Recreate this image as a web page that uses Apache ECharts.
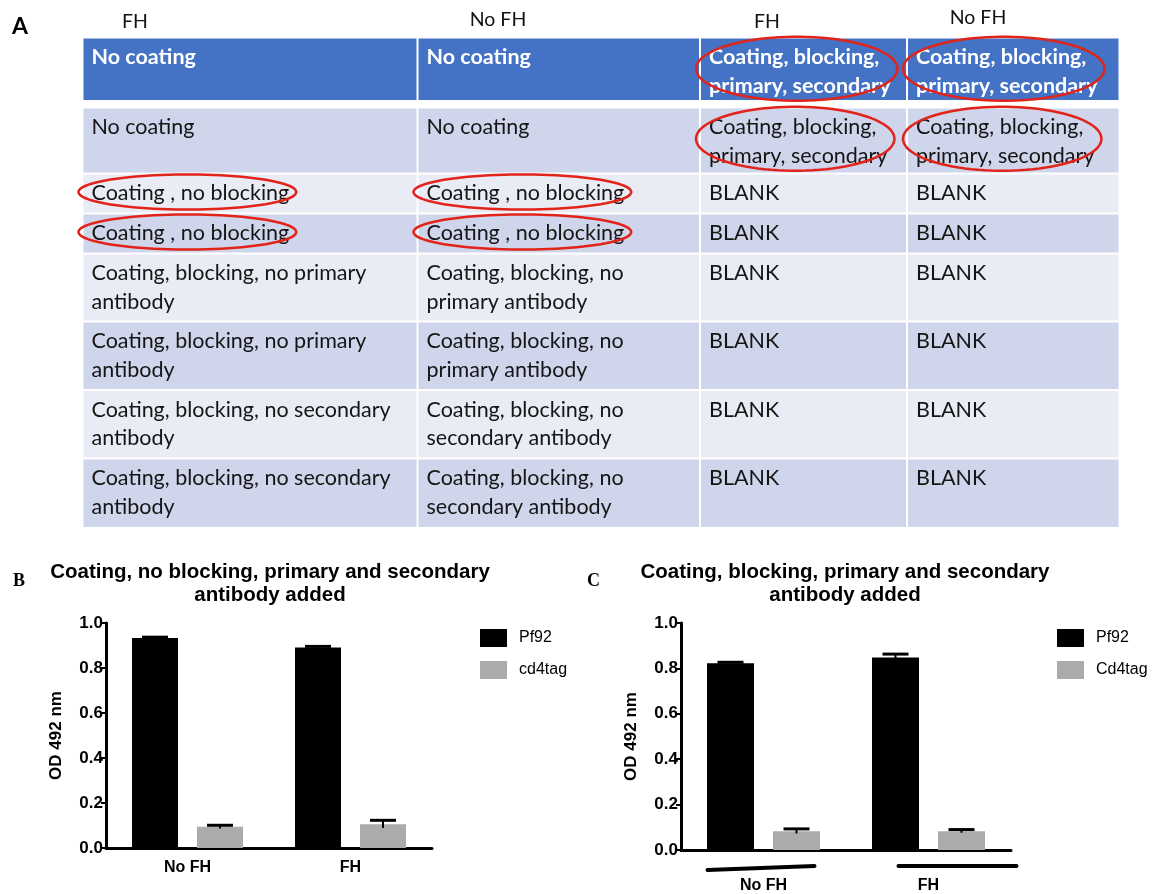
<!DOCTYPE html>
<html><head><meta charset="utf-8">
<script src="https://cdn.jsdelivr.net/npm/echarts@6/dist/echarts.min.js"></script>
<style>html,body{margin:0;padding:0;background:#fff}#c{width:1167px;height:894px}</style>
</head><body><div id="c"></div>
<script>
// ---------------- DATA ----------------
// Panel A: plate-layout table
const columnHeads = ['FH', 'No FH', 'FH', 'No FH'];
const tableRows = [
  ['No coating', 'No coating', 'Coating, blocking,\nprimary, secondary', 'Coating, blocking,\nprimary, secondary'],
  ['No coating', 'No coating', 'Coating, blocking,\nprimary, secondary', 'Coating, blocking,\nprimary, secondary'],
  ['Coating , no blocking', 'Coating , no blocking', 'BLANK', 'BLANK'],
  ['Coating , no blocking', 'Coating , no blocking', 'BLANK', 'BLANK'],
  ['Coating, blocking, no primary\nantibody', 'Coating, blocking, no\nprimary antibody', 'BLANK', 'BLANK'],
  ['Coating, blocking, no primary\nantibody', 'Coating, blocking, no\nprimary antibody', 'BLANK', 'BLANK'],
  ['Coating, blocking, no secondary\nantibody', 'Coating, blocking, no\nsecondary antibody', 'BLANK', 'BLANK'],
  ['Coating, blocking, no secondary\nantibody', 'Coating, blocking, no\nsecondary antibody', 'BLANK', 'BLANK']
];
// [row, col] cells circled in red (row 0 = header row)
const circledCells = [[0, 2], [0, 3], [1, 2], [1, 3], [2, 0], [2, 1], [3, 0], [3, 1]];

// Panel B
const titleB = 'Coating, no blocking, primary and secondary\nantibody added';
const categoriesB = ['No FH', 'FH'];
const pf92B = [0.933, 0.891];
const pf92BErr = [0.004, 0.005];
const cd4tagB = [0.094, 0.106];
const cd4tagBErr = [0.007, 0.017];
const legendB = ['Pf92', 'cd4tag'];

// Panel C
const titleC = 'Coating, blocking, primary and secondary\nantibody added';
const categoriesC = ['No FH', 'FH'];
const pf92C = [0.823, 0.848];
const pf92CErr = [0.004, 0.015];
const cd4tagC = [0.083, 0.083];
const cd4tagCErr = [0.010, 0.007];
const legendC = ['Pf92', 'Cd4tag'];

const yAxisTitle = 'OD 492 nm';

// ---------------- LAYOUT / STYLE ----------------
const TABLE = {
  left: 82.5, top: 37.5, width: 1037, height: 490.5,
  colEdges: [0, 335, 617.5, 824.5, 1037],
  rowBounds: [[0, 63.5], [70, 136], [136, 176], [176, 216], [216, 284], [284, 352.5], [352.5, 421], [421, 490.5]],
  headPos: [[52.5, -15.5], [415.5, -17.5], [684.5, -15.5], [895.5, -20]],
  padX: 9, padY: 5.75, lineH: 28.5, font: 21.5, headFont: 19.5
};
const TFONT = 'Lato';
const SANS = '"Liberation Sans", Arial, sans-serif';
const mctx = document.createElement('canvas').getContext('2d');
function textW(str, font) { mctx.font = font; return Math.max.apply(null, str.split('\n').map(s => mctx.measureText(s).width)); }

const tableItems = [];
tableRows.forEach((row, r) => row.forEach((txt, c) => tableItems.push({ r, c, txt })));
columnHeads.forEach((txt, c) => tableItems.push({ head: true, c, txt }));

function renderTable(params, api) {
  const it = tableItems[params.dataIndex];
  if (it.head) {
    const p = api.coord([TABLE.headPos[it.c][0], 0]);
    return { type: 'text', x: p[0], y: p[1] + TABLE.headPos[it.c][1],
      style: { text: it.txt, fill: '#111', font: `${TABLE.headFont}px ${TFONT}`, align: 'center', verticalAlign: 'middle' } };
  }
  const [r0, r1] = TABLE.rowBounds[it.r];
  const a = api.coord([TABLE.colEdges[it.c], r0]);
  const b = api.coord([TABLE.colEdges[it.c + 1], r1]);
  const header = it.r === 0;
  const fill = header ? '#4472C4' : (it.r % 2 === 1 ? '#CFD5EA' : '#E9EBF5');
  return { type: 'group', children: [
    { type: 'rect', shape: { x: a[0] + 1, y: a[1] + 1, width: b[0] - a[0] - 2, height: b[1] - a[1] - 2 }, style: { fill } },
    { type: 'text', x: a[0] + TABLE.padX, y: a[1] + TABLE.padY,
      style: { text: it.txt, fill: header ? '#fff' : '#151515', font: `${header ? 'bold ' : ''}${TABLE.font}px ${TFONT}`,
        verticalAlign: 'top', lineHeight: TABLE.lineH } }
  ] };
}

function renderEllipse(params, api) {
  const [r, c] = circledCells[params.dataIndex];
  const txt = tableRows[r][c];
  const n = txt.split('\n').length;
  const [r0] = TABLE.rowBounds[r];
  const a = api.coord([TABLE.colEdges[c], r0]);
  const b = api.coord([TABLE.colEdges[c + 1], r0]);
  const font = `${r === 0 ? 'bold ' : ''}${TABLE.font}px ${TFONT}`;
  const w = Math.min(textW(txt, font), b[0] - a[0] - 14);
  const left = a[0] + TABLE.padX;
  const cx = left + w / 2 - 3, rx = w / 2 + 10;
  const blockC = a[1] + 20 + (n - 1) * TABLE.lineH / 2;
  const cy = blockC - (n > 1 ? 3 : 1.5), ry = n > 1 ? 32 : 17.5;
  const pts = [];
  for (let i = 0; i < 90; i++) { const t = i / 90 * Math.PI * 2; pts.push([cx + rx * Math.cos(t), cy + ry * Math.sin(t)]); }
  return { type: 'polygon', shape: { points: pts }, style: { fill: 'none', stroke: '#E2231A', lineWidth: 2.5 } };
}

// bar geometry (px)
const BAR = { B: { w: 46, gap: 19 }, C: { w: 47, gap: 19 } };
function errData(a, ae, b, be) {
  const d = [];
  a.forEach((v, i) => d.push([i, v, ae[i], -1]));
  b.forEach((v, i) => d.push([i, v, be[i], 1]));
  return d;
}
function errRenderer(geo) {
  return function (params, api) {
    const cat = api.value(0), v = api.value(1), e = api.value(2), side = api.value(3);
    const top = api.coord([cat, v + e]);
    const bot = api.coord([cat, v - e]);
    const x = top[0] + side * (geo.w + geo.gap) / 2;
    return { type: 'group', children: [
      { type: 'line', shape: { x1: x, y1: top[1], x2: x, y2: bot[1] }, style: { stroke: '#000', lineWidth: 2 } },
      { type: 'line', shape: { x1: x - 13, y1: top[1], x2: x + 13, y2: top[1] }, style: { stroke: '#000', lineWidth: 3 } }
    ] };
  };
}
// hand-drawn grouping strokes under panel C categories: [dx1, dy1, dx2, dy2] relative to tick / axis
const C_STROKES = [[-56, 20, 51, 16], [-30, 16, 88, 16]];
function renderStrokes(params, api) {
  const i = params.dataIndex;
  const p = api.coord([i, 0]);
  const s = C_STROKES[i];
  return { type: 'line', shape: { x1: p[0] + s[0], y1: p[1] + s[1], x2: p[0] + s[2], y2: p[1] + s[3] },
    style: { stroke: '#000', lineWidth: 4, lineCap: 'round' } };
}

function xAxisFor(gi, cats, margin) {
  return { gridIndex: gi, type: 'category', data: cats,
    axisLine: { lineStyle: { color: '#000', width: 3 } },
    axisTick: { alignWithLabel: true, length: 10, lineStyle: { color: '#000', width: 3 } },
    axisLabel: { color: '#000', fontFamily: SANS, fontWeight: 'bold', fontSize: 16, margin },
    splitLine: { show: false } };
}
function yAxisFor(gi) {
  return { gridIndex: gi, type: 'value', min: 0, max: 1, interval: 0.2,
    name: yAxisTitle, nameLocation: 'middle', nameGap: 41,
    nameTextStyle: { color: '#000', fontFamily: SANS, fontWeight: 'bold', fontSize: 17 },
    axisLine: { show: true, lineStyle: { color: '#000', width: 3 } },
    axisTick: { show: true, length: 5, lineStyle: { color: '#000', width: 2 } },
    axisLabel: { color: '#000', fontFamily: SANS, fontWeight: 'bold', fontSize: 17, margin: 3, formatter: v => v.toFixed(1) },
    splitLine: { show: false } };
}
function legendFor(left, data) {
  return { left, top: 624, orient: 'vertical', icon: 'rect', itemWidth: 27, itemHeight: 18, itemGap: 14,
    selectedMode: false, data,
    textStyle: { color: '#000', fontFamily: SANS, fontSize: 16, padding: [0, 0, 0, 7] } };
}

const chart = echarts.init(document.getElementById('c'), null, { renderer: 'canvas' });
chart.setOption({
  animation: false,
  backgroundColor: '#fff',
  graphic: [
    { type: 'text', x: 12, y: 27, style: { text: 'A', font: `bold 23px ${TFONT}`, fill: '#000', verticalAlign: 'middle' } },
    { type: 'text', x: 13, y: 581, style: { text: 'B', font: 'bold 18px "Liberation Serif", serif', fill: '#000', verticalAlign: 'middle' } },
    { type: 'text', x: 587, y: 581, style: { text: 'C', font: 'bold 18px "Liberation Serif", serif', fill: '#000', verticalAlign: 'middle' } },
    { type: 'text', x: 270, y: 560.5, style: { text: titleB, font: `bold 20.5px ${SANS}`, fill: '#000', align: 'center', verticalAlign: 'top', lineHeight: 23.5 } },
    { type: 'text', x: 845, y: 560.5, style: { text: titleC, font: `bold 20.5px ${SANS}`, fill: '#000', align: 'center', verticalAlign: 'top', lineHeight: 23.5 } }
  ],
  legend: [legendFor(475, legendB), legendFor(1052, legendC)],
  grid: [
    { left: TABLE.left, top: TABLE.top, width: TABLE.width, height: TABLE.height },
    { left: 106, top: 623, width: 326, height: 225 },
    { left: 681, top: 623, width: 330, height: 228 }
  ],
  xAxis: [
    { gridIndex: 0, type: 'value', min: 0, max: TABLE.width, show: false },
    xAxisFor(1, categoriesB, 12),
    xAxisFor(2, categoriesC, 28)
  ],
  yAxis: [
    { gridIndex: 0, type: 'value', min: 0, max: TABLE.height, inverse: true, show: false },
    yAxisFor(1),
    yAxisFor(2)
  ],
  series: [
    { type: 'custom', xAxisIndex: 0, yAxisIndex: 0, clip: false, z: 1, silent: true,
      data: tableItems.map((_, i) => i), renderItem: renderTable },
    { type: 'custom', xAxisIndex: 0, yAxisIndex: 0, clip: false, z: 5, silent: true,
      data: circledCells.map((_, i) => i), renderItem: renderEllipse },

    { name: 'Pf92', type: 'bar', xAxisIndex: 1, yAxisIndex: 1, data: pf92B, barWidth: BAR.B.w, barGap: (BAR.B.gap / BAR.B.w * 100) + '%', itemStyle: { color: '#000' } },
    { name: 'cd4tag', type: 'bar', xAxisIndex: 1, yAxisIndex: 1, data: cd4tagB, barWidth: BAR.B.w, itemStyle: { color: '#ababab' } },
    { type: 'custom', xAxisIndex: 1, yAxisIndex: 1, z: 3, silent: true, data: errData(pf92B, pf92BErr, cd4tagB, cd4tagBErr), renderItem: errRenderer(BAR.B) },

    { name: 'Pf92', type: 'bar', xAxisIndex: 2, yAxisIndex: 2, data: pf92C, barWidth: BAR.C.w, barGap: (BAR.C.gap / BAR.C.w * 100) + '%', itemStyle: { color: '#000' } },
    { name: 'Cd4tag', type: 'bar', xAxisIndex: 2, yAxisIndex: 2, data: cd4tagC, barWidth: BAR.C.w, itemStyle: { color: '#ababab' } },
    { type: 'custom', xAxisIndex: 2, yAxisIndex: 2, z: 3, silent: true, data: errData(pf92C, pf92CErr, cd4tagC, cd4tagCErr), renderItem: errRenderer(BAR.C) },
    { type: 'custom', xAxisIndex: 2, yAxisIndex: 2, clip: false, z: 3, silent: true, data: categoriesC.map((_, i) => i), renderItem: renderStrokes }
  ]
});
</script></body></html>
